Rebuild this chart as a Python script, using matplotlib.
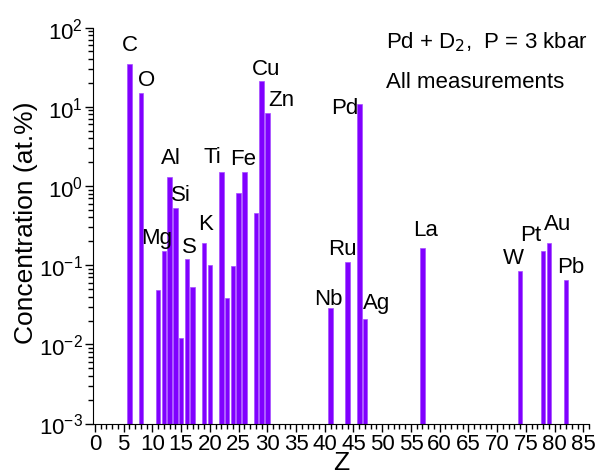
import matplotlib
matplotlib.use("Agg")
import matplotlib.pyplot as plt
from matplotlib.ticker import MultipleLocator, LogLocator, NullFormatter

plt.rcParams['font.family'] = ['Liberation Sans', 'DejaVu Sans']

# atomic number and measured concentration (at.%)
z_values = [6, 8, 11, 12, 13, 14, 15, 16, 17, 19, 20, 22, 23, 24, 25, 26,
            28, 29, 30, 41, 44, 46, 47, 57, 74, 78, 79, 82]
concentration = [35, 15, 0.048, 0.15, 1.3, 0.52, 0.011, 0.12, 0.052, 0.19,
                 0.1, 1.5, 0.038, 0.097, 0.82, 1.5, 0.45, 21, 8.3, 0.028,
                 0.11, 11, 0.02, 0.165, 0.083, 0.15, 0.19, 0.064]

# element label: (Z, symbol)
labels = [(6, 'C'), (8, 'O'), (12, 'Mg'), (13, 'Al'), (14, 'Si'), (16, 'S'),
          (19, 'K'), (22, 'Ti'), (26, 'Fe'), (29, 'Cu'), (30, 'Zn'),
          (41, 'Nb'), (44, 'Ru'), (46, 'Pd'), (47, 'Ag'), (57, 'La'),
          (74, 'W'), (78, 'Pt'), (79, 'Au'), (82, 'Pb')]

# label placement: x shift (units of Z), height factor above bar top, alignment
label_pos = {
    'C': (0, 1.3, 'center'), 'O': (1.0, 1.1, 'center'),
    'Mg': (-1.2, 1.1, 'center'), 'Al': (0.2, 1.3, 'center'),
    'Si': (1.0, 1.1, 'center'), 'S': (0.5, 1.05, 'center'),
    'K': (0.3, 1.3, 'center'), 'Ti': (-1.6, 1.17, 'center'),
    'Fe': (-0.2, 1.1, 'center'), 'Cu': (0.8, 1.07, 'center'),
    'Zn': (0.1, 1.1, 'left'), 'Nb': (-0.3, 1.0, 'center'),
    'Ru': (-1.0, 1.1, 'center'), 'Pd': (-0.1, 0.65, 'right'),
    'Ag': (-0.4, 1.23, 'left'), 'La': (0.6, 1.25, 'center'),
    'W': (-1.2, 1.1, 'center'), 'Pt': (-2.1, 1.2, 'center'),
    'Au': (1.6, 1.3, 'center'), 'Pb': (0.8, 1.1, 'center'),
}

fig = plt.figure(figsize=(5.98, 4.77), dpi=100)
ax = fig.add_axes([0.155, 0.11, 0.83, 0.83])

ax.bar(z_values, concentration, width=0.8, color='#8000ff',
       edgecolor='#a64dff', linewidth=0.5, bottom=1e-3)

conc = dict(zip(z_values, concentration))
for z, sym in labels:
    dx, fy, ha = label_pos[sym]
    ax.text(z + dx, conc[z] * fy, sym, ha=ha, va='bottom', fontsize=16)

ax.set_yscale('log')
ax.set_ylim(1e-3, 100)
ax.set_xlim(-0.4, 86)
ax.xaxis.set_major_locator(MultipleLocator(5))
ax.xaxis.set_minor_locator(MultipleLocator(1))
ax.yaxis.set_major_locator(LogLocator(base=10, numticks=10))
ax.yaxis.set_minor_locator(LogLocator(base=10, subs=range(2, 10), numticks=20))
ax.yaxis.set_minor_formatter(NullFormatter())

for side in ['top', 'right']:
    ax.spines[side].set_visible(False)
ax.tick_params(axis='both', which='major', direction='out', length=6,
               width=1, labelsize=16, pad=1)
ax.tick_params(axis='both', which='minor', direction='out', length=3.5,
               width=1)

ax.set_xlabel('Z', fontsize=19, labelpad=-3)
ax.set_ylabel('Concentration (at.%)', fontsize=19)
ax.yaxis.set_label_coords(-0.11, 0.51)

ax.text(0.59, 0.965, r'Pd + D$_2$,  P = 3 kbar', transform=ax.transAxes,
        fontsize=16, ha='left', va='center')
ax.text(0.59, 0.865, 'All measurements', transform=ax.transAxes,
        fontsize=16, ha='left', va='center')

fig.savefig('out.png', dpi=100)
